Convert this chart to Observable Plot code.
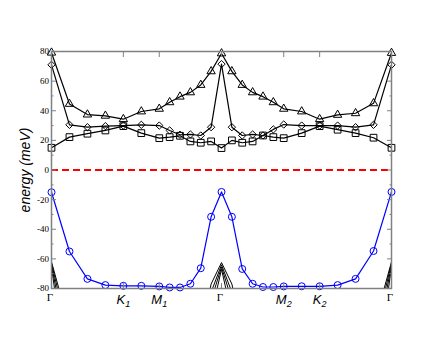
<!DOCTYPE html>
<html><head><meta charset="utf-8">
<script src="https://cdn.jsdelivr.net/npm/d3@7"></script>
<script src="https://cdn.jsdelivr.net/npm/@observablehq/plot@0.6"></script>
<style>html,body{margin:0;padding:0;background:#fff;}</style>
</head><body>
<div id="chart"></div>
<script>
// path coordinate along Γ-K1-M1-Γ-M2-K2-Γ
const qpath = [0, 0.5, 1, 1.5, 2, 2.5, 3, 3.289, 3.577, 3.866, 4.155, 4.443, 4.732,
  5.021, 5.309, 5.598, 5.887, 6.175, 6.464, 6.964, 7.464, 7.964, 8.464, 8.964, 9.464];
const pointPos = [0, 2, 3, 4.732, 6.464, 7.464, 9.464];
const pointLabels = ["Γ", "K1", "M1", "Γ", "M2", "K2", "Γ"];

const blueBand = [-15, -55, -73.5, -77.7, -78.2, -78.2, -78.6, -79.3, -79.3, -76.8, -66.3, -31.6, -14.8,
  -31.6, -66.8, -76.8, -79, -79, -78.6, -78.5, -78.5, -77.7, -73.5, -54.7, -14.8];
const triBand = [79.2, 44.6, 37.4, 36.6, 34.3, 39.5, 41.3, 45.7, 49.5, 52.4, 57.4, 66.6, 78.7,
  66.6, 57.4, 52.4, 49.5, 45.7, 41.3, 39.5, 34.3, 37.2, 38.3, 45, 79];
const diaBand = [71, 30.5, 28.9, 29.6, 30, 30.5, 30, 26.7, 23.8, 24, 23.3, 28.9, 71.5,
  28.9, 23.3, 24, 23.3, 27.4, 30.7, 30, 30, 30, 28.9, 30.5, 71];
const sqBand = [15, 22.2, 24.5, 26.7, 29.6, 24.9, 21.5, 22.2, 23.1, 19.3, 18.4, 19.3, 14.8,
  20, 18.4, 19.3, 23.3, 22.2, 21.5, 24.9, 29.6, 27.2, 24.9, 21.8, 15];
// low bands, mostly below the visible window (null = not drawn)
const N = null;
const low1 = [-62, -106, N, N, N, N, N, N, N, N, -110, -77, -62.5, -77, -110, N, N, N, N, N, N, N, N, -106, -62];
const low2 = [-63, -114, N, N, N, N, N, N, N, N, N, -82.5, -64, -82.5, N, N, N, N, N, N, N, N, N, -114, -63];
const low3 = [-64, -128, N, N, N, N, N, N, N, N, N, -88, -65.5, -88, N, N, N, N, N, N, N, N, N, -128, -64];
const low4 = [-65, -155, N, N, N, N, N, N, N, N, N, -98, -67, -98, N, N, N, N, N, N, N, N, N, -155, -65];

const yMajor = [-80, -60, -40, -20, 0, 20, 40, 60, 80];
const yMinor = [-70, -50, -30, -10, 10, 30, 50, 70];

const rows = arr => qpath.map((q, i) => ({q, e: arr[i]}));
const labelOf = new Map(pointPos.map((p, i) => [p, pointLabels[i]]));
const gray = "#808080";
const lineOpts = {x: "q", y: "e", stroke: "black", strokeWidth: 1.2};
const dotOpts = {x: "q", y: "e", stroke: "black", fill: "none", strokeWidth: 1};

const chart = Plot.plot({
  width: 440, height: 340,
  marginLeft: 51, marginRight: 49, marginTop: 51, marginBottom: 52,
  x: {domain: [0, 9.464]},
  y: {domain: [-80, 80]},
  marks: [
    Plot.ruleY([0], {stroke: "#ff0000", strokeWidth: 2, strokeDasharray: "7,4"}),
    ...[low1, low2, low3, low4].map(a => Plot.line(rows(a), {...lineOpts, strokeWidth: 1, clip: true})),
    Plot.line(rows(triBand), lineOpts),
    Plot.line(rows(diaBand), lineOpts),
    Plot.line(rows(sqBand), lineOpts),
    Plot.dot(rows(triBand), {...dotOpts, symbol: "triangle", r: 3.1}),
    Plot.dot(rows(diaBand), {...dotOpts, symbol: "diamond2", r: 3.3}),
    Plot.dot(rows(sqBand), {...dotOpts, symbol: "square", r: 3.8}),
    Plot.line(rows(blueBand), {x: "q", y: "e", stroke: "#0000ff", strokeWidth: 1.2}),
    Plot.dot(rows(blueBand), {x: "q", y: "e", stroke: "#0000ff", fill: "none", r: 3.5, strokeWidth: 1}),
    Plot.frame({stroke: gray, strokeWidth: 1.5}),
    Plot.axisY({ticks: yMajor, anchor: "left", tickSize: 0, tickPadding: 2.5, tickFormat: d => String(d),
      fontFamily: "Liberation Serif", fontSize: 9, label: null}),
    Plot.axisY({ticks: yMajor, anchor: "left", tickSize: -5, fill: "none", stroke: gray, label: null}),
    Plot.axisY({ticks: yMinor, anchor: "left", tickSize: -2.5, fill: "none", stroke: gray, label: null}),
    Plot.axisY({ticks: yMajor, anchor: "right", tickSize: -5, fill: "none", stroke: gray, label: null}),
    Plot.axisY({ticks: yMinor, anchor: "right", tickSize: -2.5, fill: "none", stroke: gray, label: null}),
    Plot.axisX({ticks: pointPos, anchor: "top", tickSize: -5, fill: "none", stroke: gray, label: null}),
    Plot.axisX({ticks: pointPos, anchor: "bottom", tickSize: -5, fill: "none", stroke: gray, label: null}),
    Plot.axisX({ticks: pointPos, anchor: "bottom", tickSize: 0, tickPadding: 6, tickFormat: d => labelOf.get(d),
      fontSize: 13, label: null}),
    Plot.text(["energy (meV)"], {frameAnchor: "left", textAnchor: "middle", rotate: -90, dx: -26,
      fontFamily: "Liberation Sans", fontStyle: "italic", fontSize: 14})
  ]
});

const labelSet = new Set(pointLabels);
d3.select(chart).selectAll("text").filter(function() { return labelSet.has(this.textContent); }).each(function() {
  const t = d3.select(this);
  const s = this.textContent;
  t.text("");
  if (s === "Γ") {
    t.append("tspan").attr("font-family", "Liberation Serif").attr("font-size", 11)
      .attr("dx", -1.5).attr("dy", -3).text("Γ");
  } else {
    t.append("tspan").attr("font-family", "Liberation Sans").attr("font-style", "italic").text(s[0]);
    t.append("tspan").attr("font-family", "Liberation Sans").attr("font-style", "italic")
      .attr("font-size", 9).attr("dy", 3.3).text(s.slice(1));
  }
});
document.getElementById("chart").appendChild(chart);
</script>
</body></html>
